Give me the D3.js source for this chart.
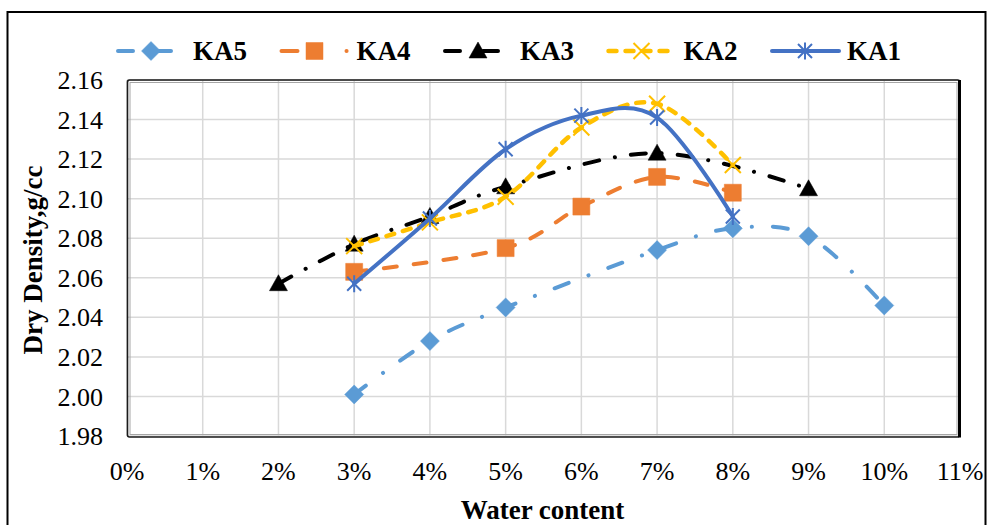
<!DOCTYPE html>
<html>
<head>
<meta charset="utf-8">
<script src="https://cdn.jsdelivr.net/npm/d3@7"></script>
<style>
  html, body { margin: 0; padding: 0; background: #fff; }
  svg { display: block; font-family: "Liberation Serif", "Times New Roman", serif; }
</style>
</head>
<body>
<svg id="chart" width="987" height="525"></svg>
<script>
// chart values
const xTicks = [0, 1, 2, 3, 4, 5, 6, 7, 8, 9, 10, 11]
const yTicks = [1.98, 2.00, 2.02, 2.04, 2.06, 2.08, 2.10, 2.12, 2.14, 2.16]

const ka5X = [3, 4, 5, 7, 8, 9, 10]
const ka5Y = [2.001, 2.028, 2.045, 2.074, 2.085, 2.081, 2.046]

const ka4X = [3, 5, 6, 7, 8]
const ka4Y = [2.063, 2.075, 2.096, 2.111, 2.103]

const ka3X = [2, 3, 4, 5, 7, 9]
const ka3Y = [2.057, 2.077, 2.091, 2.106, 2.123, 2.105]

const ka2X = [3, 4, 5, 6, 7, 8]
const ka2Y = [2.076, 2.088, 2.101, 2.136, 2.148, 2.117]

const ka1X = [3, 4, 5, 6, 7, 8]
const ka1Y = [2.057, 2.090, 2.125, 2.142, 2.141, 2.091]

// drawing order = legend order, KA1 ends up on top
const series = [
  { name: 'KA5', xs: ka5X, ys: ka5Y, color: '#5B9BD5', dash: '15,21,0.1,21', legendDash: '15,23', width: 4, marker: 'diamond' },
  { name: 'KA4', xs: ka4X, ys: ka4Y, color: '#ED7D31', dash: '13,17', legendDash: '16,49,0.1,20', width: 4, marker: 'square' },
  { name: 'KA3', xs: ka3X, ys: ka3Y, color: '#000000', dash: '15,16,0.1,16', legendDash: '15,23', width: 4, marker: 'triangle' },
  { name: 'KA2', xs: ka2X, ys: ka2Y, color: '#FFC000', dash: '8,9', legendDash: '8,9', width: 4.5, marker: 'x' },
  { name: 'KA1', xs: ka1X, ys: ka1Y, color: '#4472C4', dash: null, legendDash: null, width: 4, marker: 'star' }
]

const margin = { top: 80, right: 27, bottom: 89, left: 127 }
const W = 987
const H = 525
const width = W - margin.left - margin.right
const height = H - margin.top - margin.bottom

const svg = d3.select('#chart')

// outer chart frame
svg.append('rect')
  .attr('x', 7.5).attr('y', 12)
  .attr('width', 978).attr('height', 530)
  .attr('fill', 'none').attr('stroke', '#000').attr('stroke-width', 2)

const xScale = d3.scaleLinear().domain([0, 11]).range([0, width])
const yScale = d3.scaleLinear().domain([1.98, 2.16]).range([height, 0])

const g = svg.append('g').attr('transform', `translate(${margin.left}, ${margin.top})`)

// grid
g.append('g').selectAll('line').data(xTicks).join('line')
  .attr('x1', d => xScale(d)).attr('x2', d => xScale(d))
  .attr('y1', 0).attr('y2', height)
  .attr('stroke', '#d9d9d9').attr('stroke-width', 1.5)

g.append('g').selectAll('line').data(yTicks).join('line')
  .attr('x1', 0).attr('x2', width)
  .attr('y1', d => yScale(d)).attr('y2', d => yScale(d))
  .attr('stroke', '#d9d9d9').attr('stroke-width', 1.5)

// plot area frame (double line with a little shadow on the right)
g.append('rect')
  .attr('x', 0.5).attr('y', 0)
  .attr('width', width - 1).attr('height', height + 1)
  .attr('rx', 2)
  .attr('fill', 'none').attr('stroke', '#1a1a1a').attr('stroke-width', 1.6)
g.append('rect')
  .attr('x', 3).attr('y', 2.5)
  .attr('width', width - 6).attr('height', height - 4)
  .attr('fill', 'none').attr('stroke', '#a6a6a6').attr('stroke-width', 1)
g.append('line')
  .attr('x1', width - 0.5).attr('x2', width - 0.5)
  .attr('y1', 0).attr('y2', height + 1.5)
  .attr('stroke', '#000').attr('stroke-width', 3)

// axis labels
g.append('g').selectAll('text').data(yTicks).join('text')
  .attr('x', -24)
  .attr('y', d => yScale(d))
  .attr('dy', '0.35em')
  .attr('text-anchor', 'end')
  .attr('font-size', 26)
  .attr('fill', '#000')
  .text(d => d.toFixed(2))

g.append('g').selectAll('text').data(xTicks).join('text')
  .attr('x', d => xScale(d))
  .attr('y', height + 44)
  .attr('text-anchor', 'middle')
  .attr('font-size', 26)
  .attr('fill', '#000')
  .text(d => d + '%')

svg.append('text')
  .attr('x', margin.left + width / 2 - 1)
  .attr('y', 519)
  .attr('text-anchor', 'middle')
  .attr('font-size', 27).attr('font-weight', 'bold')
  .text('Water content')

svg.append('text')
  .attr('transform', 'translate(42, 260) rotate(-90)')
  .attr('text-anchor', 'middle')
  .attr('font-size', 27).attr('font-weight', 'bold')
  .text('Dry Density,g/cc')

// markers
const markerPaths = {
  diamond: 'M0,-9.5L9.5,0L0,9.5L-9.5,0Z',
  square: 'M-8.5,-8.5H8.5V8.5H-8.5Z',
  triangle: 'M0,-9L9,7L-9,7Z',
  x: 'M-8,-8L8,8M-8,8L8,-8',
  star: 'M-7,-7L7,7M-7,7L7,-7M0,-8.5V8.5'
}
const filledMarker = m => m === 'diamond' || m === 'square' || m === 'triangle'

function drawMarker(sel, s) {
  sel.attr('d', markerPaths[s.marker])
    .attr('fill', filledMarker(s.marker) ? s.color : 'none')
    .attr('stroke', s.color)
    .attr('stroke-width', filledMarker(s.marker) ? 0.5 : 2)
}

// smoothed lines like the spreadsheet's "smooth line"
const line = d3.line()
  .x(d => xScale(d[0]))
  .y(d => yScale(d[1]))
  .curve(d3.curveCardinal.tension(0))

series.forEach(s => {
  const pts = s.xs.map((x, i) => [x, s.ys[i]])
  const sg = g.append('g').attr('class', 'series')
  sg.append('path')
    .datum(pts)
    .attr('d', line)
    .attr('fill', 'none')
    .attr('stroke', s.color)
    .attr('stroke-width', s.width)
    .attr('stroke-linecap', 'round')
    .attr('stroke-dasharray', s.dash)
  sg.selectAll('path.marker').data(pts).join('path')
    .attr('class', 'marker')
    .attr('transform', d => `translate(${xScale(d[0])}, ${yScale(d[1])})`)
    .call(drawMarker, s)
})

// legend
const legend = svg.append('g').attr('transform', 'translate(116, 51)')
series.forEach((s, i) => {
  const lg = legend.append('g').attr('transform', `translate(${i * 163.5}, 0)`)
  lg.append('line')
    .attr('x1', 2).attr('x2', 69).attr('y1', 0).attr('y2', 0)
    .attr('stroke', s.color).attr('stroke-width', s.width)
    .attr('stroke-linecap', 'round')
    .attr('stroke-dasharray', s.legendDash)
  lg.append('path')
    .attr('transform', 'translate(35, 0)')
    .call(drawMarker, s)
  lg.append('text')
    .attr('x', 77).attr('y', 8.5)
    .attr('font-size', 27).attr('font-weight', 'bold')
    .text(s.name)
})
</script>
</body>
</html>
